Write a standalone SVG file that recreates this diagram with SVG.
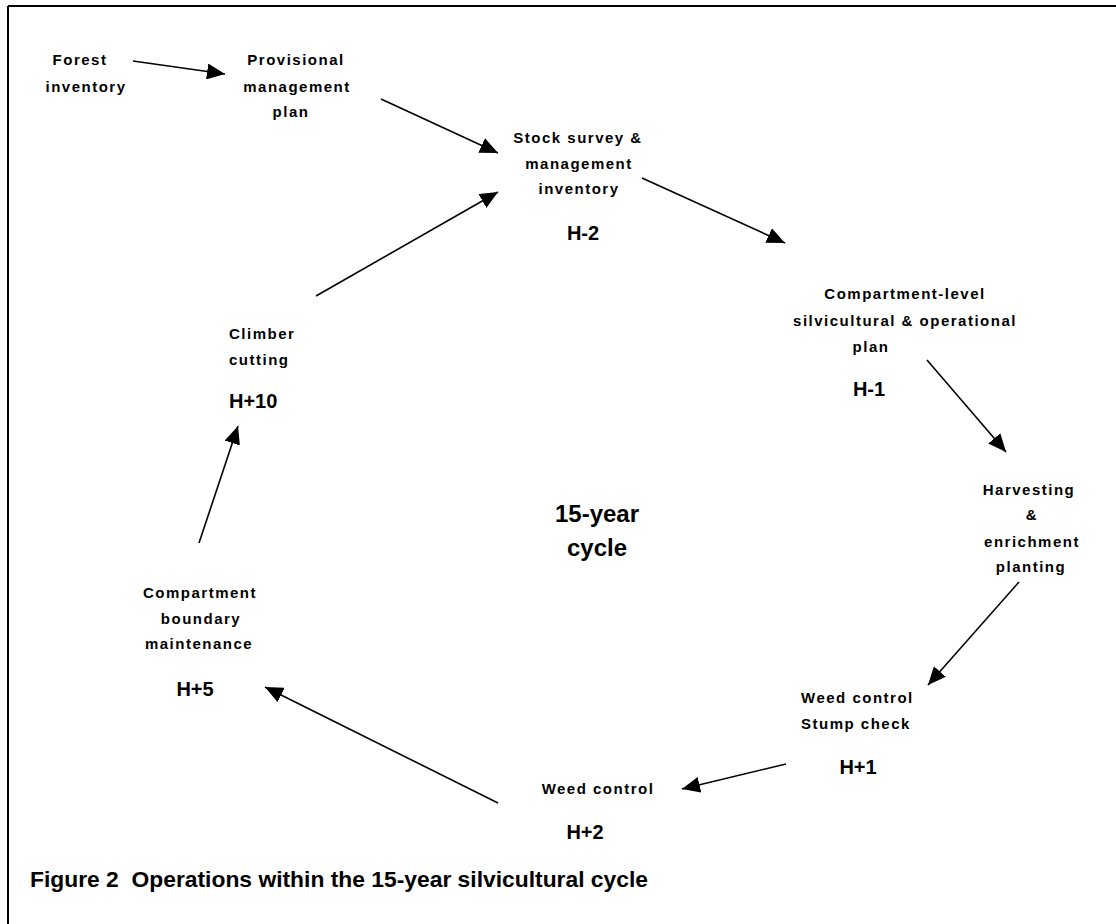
<svg xmlns="http://www.w3.org/2000/svg" width="1116" height="924" viewBox="0 0 1116 924">
<style>
.lbl{font-family:"Liberation Sans",Arial,sans-serif;font-weight:bold;font-size:15px;letter-spacing:1.5px;fill:#000;text-anchor:middle}
.lft{text-anchor:start}
.h{font-family:"Liberation Sans",Arial,sans-serif;font-weight:bold;font-size:20px;fill:#000;text-anchor:middle}
.big{font-family:"Liberation Sans",Arial,sans-serif;font-weight:bold;font-size:24px;fill:#000;text-anchor:middle}
.cap{font-family:"Liberation Sans",Arial,sans-serif;font-weight:bold;font-size:22px;fill:#000;white-space:pre}
.conn line{stroke:#000;stroke-width:1.6;marker-end:url(#ah)}
</style>
<defs>
<marker id="ah" markerUnits="userSpaceOnUse" markerWidth="19" markerHeight="16" refX="18" refY="8" orient="auto">
<path d="M0,0 L18,8 L0,16 z" fill="#000"/>
</marker>
</defs>
<rect width="1116" height="924" fill="#fff"/>
<g id="frame" stroke="#000" stroke-width="2" fill="none">
<line x1="8" y1="6" x2="1116" y2="6"/>
<line x1="8" y1="6" x2="8" y2="924"/>
</g>
<g id="forest-inventory"><text class="lbl" x="80" y="65">Forest</text><text class="lbl" x="86" y="92">inventory</text></g>
<g id="provisional-plan"><text class="lbl" x="296" y="65">Provisional</text><text class="lbl" x="297" y="92">management</text><text class="lbl" x="291" y="117">plan</text></g>
<g id="stock-survey"><text class="lbl" x="578" y="143">Stock survey &amp;</text><text class="lbl" x="579" y="169">management</text><text class="lbl" x="579" y="194">inventory</text><text class="h" x="583" y="240">H-2</text></g>
<g id="compartment-plan"><text class="lbl" x="905" y="299">Compartment-level</text><text class="lbl" x="905" y="326">silvicultural &amp; operational</text><text class="lbl" x="871" y="352">plan</text><text class="h" x="869" y="396">H-1</text></g>
<g id="harvesting"><text class="lbl" x="1029" y="495">Harvesting</text><text class="lbl" x="1032" y="520">&amp;</text><text class="lbl" x="1032" y="547">enrichment</text><text class="lbl" x="1031" y="572">planting</text></g>
<g id="weed-stump"><text class="lbl lft" x="801" y="703">Weed control</text><text class="lbl lft" x="801" y="729">Stump check</text><text class="h" x="858" y="774">H+1</text></g>
<g id="weed-control"><text class="lbl" x="598" y="794">Weed control</text><text class="h" x="585" y="839">H+2</text></g>
<g id="boundary"><text class="lbl" x="200" y="598">Compartment</text><text class="lbl" x="201" y="624">boundary</text><text class="lbl" x="199" y="649">maintenance</text><text class="h" x="195" y="696">H+5</text></g>
<g id="climber"><text class="lbl lft" x="229" y="339">Climber</text><text class="lbl lft" x="229" y="365">cutting</text><text class="h" x="229" y="408" style="text-anchor:start">H+10</text></g>
<g id="cycle"><text class="big" x="597" y="522">15-year</text><text class="big" x="597" y="556">cycle</text></g>
<g id="connectors" class="conn">
<line x1="133" y1="61" x2="225" y2="74"/>
<line x1="381" y1="99" x2="498" y2="153"/>
<line x1="642" y1="178" x2="785" y2="243"/>
<line x1="927" y1="360" x2="1006" y2="452"/>
<line x1="1019" y1="582" x2="928" y2="685"/>
<line x1="786" y1="764" x2="682" y2="789"/>
<line x1="498" y1="803" x2="265" y2="687"/>
<line x1="199" y1="543" x2="238" y2="426"/>
<line x1="316" y1="296" x2="498" y2="192"/>
</g>
<text id="caption" class="cap" x="30" y="887" xml:space="preserve" textLength="618" lengthAdjust="spacingAndGlyphs">Figure 2  Operations within the 15-year silvicultural cycle</text>
</svg>
